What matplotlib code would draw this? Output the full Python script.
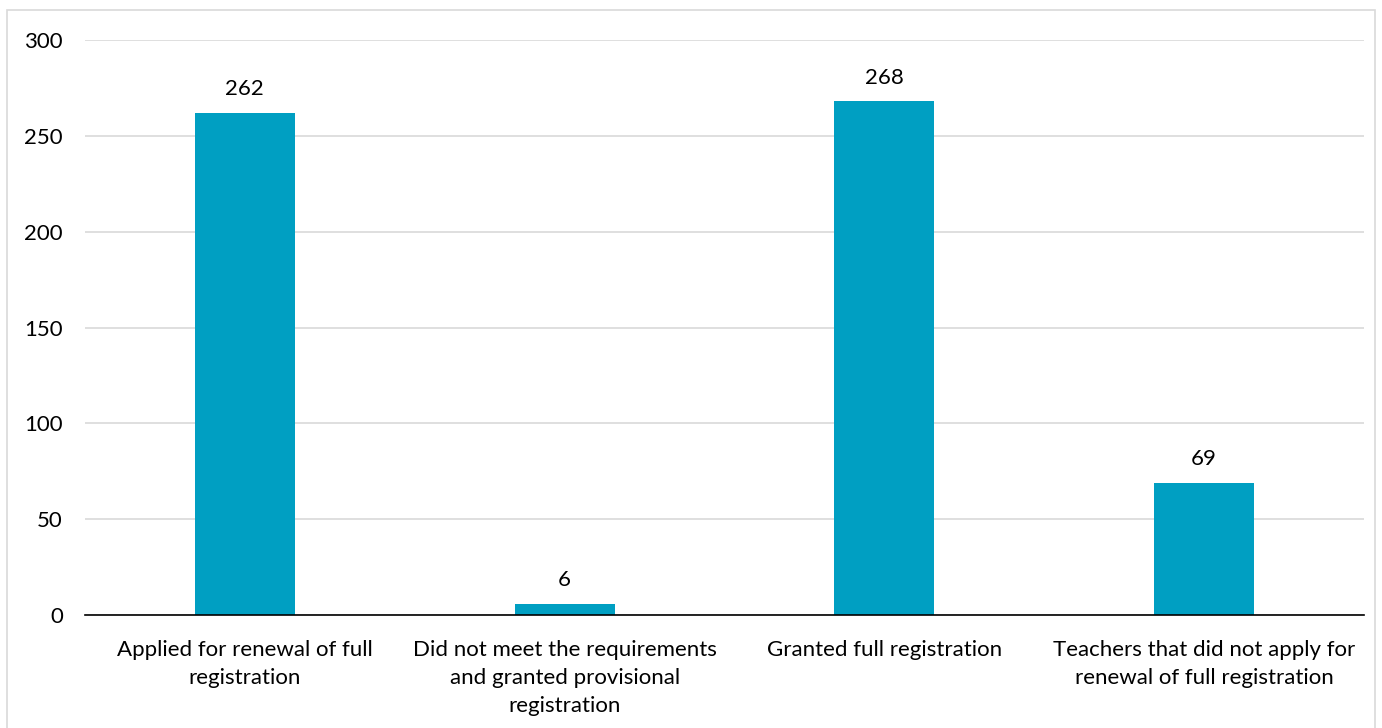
import matplotlib
matplotlib.use("Agg")
import matplotlib.pyplot as plt
from matplotlib.patches import Rectangle

categories = ["Applied for renewal of full\nregistration",
              "Did not meet the requirements\nand granted provisional\nregistration",
              "Granted full registration",
              "Teachers that did not apply for\nrenewal of full registration"]
values = [262, 6, 268, 69]

plt.rcParams['font.family'] = ['Lato', 'DejaVu Sans']
fs = 16

fig = plt.figure(figsize=(13.82, 7.28), dpi=100)
ax = fig.add_axes([85 / 1382, 1 - 615 / 728, (1364 - 85) / 1382, (615 - 40) / 728])

# light frame around the whole chart
fig.patches.append(Rectangle((7 / 1382, -0.01), 1368 / 1382, 1 - 10 / 728 + 0.01,
                             transform=fig.transFigure, fill=False,
                             edgecolor='#D9D9D9', linewidth=1.2))

x = range(len(categories))
bars = ax.bar(x, values, width=0.3125, color='#009FC2', zorder=2)
for b, v in zip(bars, values):
    ax.text(b.get_x() + b.get_width() / 2, v + 7, str(v), ha='center', va='bottom',
            fontsize=fs, color='#000000')

ax.set_xlim(-0.5, len(categories) - 0.5)
ax.set_ylim(0, 300)
ax.set_yticks(range(0, 301, 50))
ax.set_xticks(list(x))
ax.set_xticklabels(categories, fontsize=fs, linespacing=1.5)
ax.tick_params(axis='both', length=0, labelsize=fs, colors='#000000')
ax.tick_params(axis='y', pad=16)
ax.tick_params(axis='x', pad=18)
ax.yaxis.grid(True, color='#D9D9D9', linewidth=1.2, zorder=0)
for s in ['top', 'right', 'left']:
    ax.spines[s].set_visible(False)
ax.spines['bottom'].set_color('#000000')
ax.spines['bottom'].set_linewidth(1.2)
ax.spines['bottom'].set_zorder(3)

fig.savefig("out.png", dpi=100)
